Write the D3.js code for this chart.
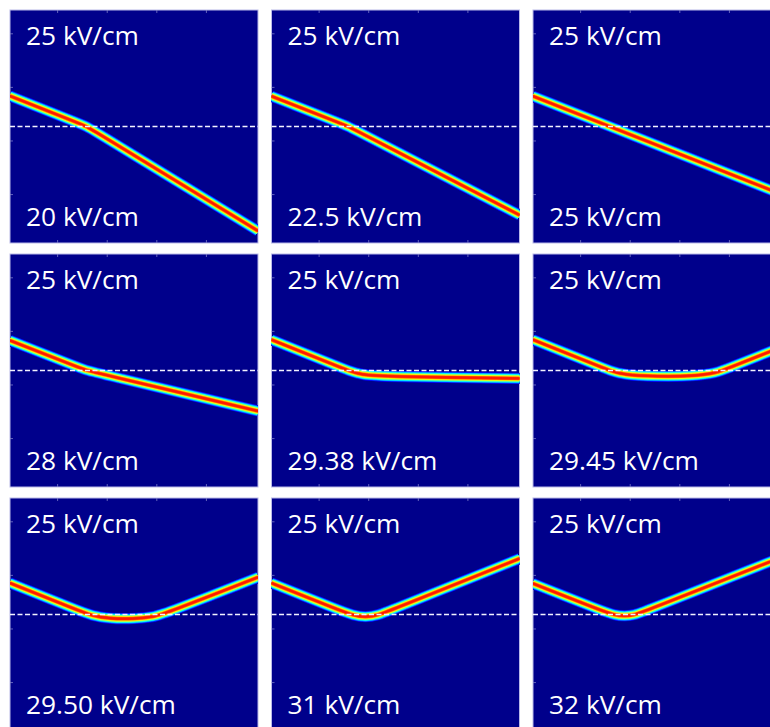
<!DOCTYPE html>
<html>
<head>
<meta charset="utf-8">
<script src="https://cdn.jsdelivr.net/npm/d3@7"></script>
<style>
  html, body { margin: 0; padding: 0; background: #ffffff; }
  svg { display: block; }
</style>
</head>
<body>
<svg id="chart" width="770" height="727"></svg>
<script>
// Upper-layer field (same in every panel) and lower-layer field per panel
const referenceLabel = "25 kV/cm";
const fieldLabels = ["20 kV/cm", "22.5 kV/cm", "25 kV/cm",
                     "28 kV/cm", "29.38 kV/cm", "29.45 kV/cm",
                     "29.50 kV/cm", "31 kV/cm", "32 kV/cm"];

// Beam centre-line per panel: [x, y] with x across the panel (0–100)
// and y relative to the interface (0 = dashed line, positive = above)
const beamPaths = [
  [[0, 13.1], [27, 1.7], [31, 0], [35, -2.6], [100, -44.8]],
  [[0, 13.0], [27, 1.7], [31, 0], [35, -2.2], [100, -38.0]],
  [[0, 13.0], [31, 0], [100, -29.0]],
  [[0, 12.9], [27, 1.6], [31, 0], [35, -1.0], [100, -17.4]],
  [[0, 13.2], [27, 1.7], [31, 0], [36, -1.8], [45, -2.6], [100, -3.4]],
  [[0, 13.2], [27, 1.7], [31, 0], [36, -1.8], [50, -2.6], [65, -2.4], [74, -1.0], [78, 0.7], [100, 10.0]],
  [[0, 13.5], [27, 2.0], [33, -0.5], [40, -1.8], [50, -1.9], [58, -1.0], [63, 0.6], [100, 16.0]],
  [[0, 13.5], [27, 2.0], [33, -0.4], [38, -1.2], [43, -0.3], [48, 1.8], [100, 24.0]],
  [[0, 13.3], [28, 1.5], [33, -0.3], [37, -0.7], [41, -0.2], [45, 1.4], [100, 24.5]]
];

// Frame ticks
const xTicks = [19, 39, 59, 79];
const yTicks = [40, 17, -6, -29];

const svg = d3.select("#chart");
const panelW = 248, panelH = 233;
const colPitch = 261.5;
const rowTops = [10, 254, 498];
const originX = 10;

const x = d3.scaleLinear().domain([0, 100]).range([0, panelW]);
const y = d3.scaleLinear().domain([-50, 50]).range([panelH, 0]);

// jet colour map
function jet(t) {
  const c = v => Math.max(0, Math.min(1, v));
  const r = c(1.5 - Math.abs(4 * t - 3));
  const g = c(1.5 - Math.abs(4 * t - 2));
  const b = c(1.5 - Math.abs(4 * t - 1));
  return d3.rgb(r * 255, g * 255, b * 255).formatHex();
}

// Beam cross-section drawn as nested strokes, brighter towards the centre
const beamWidth = 12;
const levels = d3.range(0.05, 0.87, 0.02);

const line = d3.line()
  .x(d => x(d[0]))
  .y(d => y(d[1]))
  .curve(d3.curveBasis);

const defs = svg.append("defs");
defs.append("clipPath").attr("id", "panel-clip")
  .append("rect").attr("width", panelW).attr("height", panelH);

const panels = svg.selectAll("g.panel")
  .data(beamPaths)
  .join("g")
  .attr("class", "panel")
  .attr("transform", (d, i) =>
    `translate(${originX + (i % 3) * colPitch},${rowTops[Math.floor(i / 3)]})`);

panels.append("rect")
  .attr("width", panelW)
  .attr("height", panelH)
  .attr("fill", "#00008b")
  .attr("stroke", "#b9b9e8")
  .attr("stroke-width", 1);

const inner = panels.append("g").attr("clip-path", "url(#panel-clip)");

inner.each(function (pts) {
  const g = d3.select(this);
  levels.forEach(t => {
    g.append("path")
      .attr("d", line(pts))
      .attr("fill", "none")
      .attr("stroke", jet(t))
      .attr("stroke-width", beamWidth * (1 - t))
      .attr("stroke-linejoin", "round");
  });
});

// interface
inner.append("line")
  .attr("x1", x(0)).attr("x2", x(100))
  .attr("y1", y(0)).attr("y2", y(0))
  .attr("stroke", "#f2f2ff")
  .attr("stroke-width", 1.3)
  .attr("stroke-dasharray", "5,2.5");

// faint frame ticks
const tickStyle = sel => sel.call(g => g.select(".domain").remove())
  .selectAll("line").attr("stroke", "#8c8cd0").attr("stroke-opacity", 0.7);
panels.append("g").attr("transform", `translate(0,${panelH})`)
  .call(d3.axisBottom(x).tickValues(xTicks).tickSize(-3).tickFormat(""))
  .call(tickStyle);
panels.append("g")
  .call(d3.axisTop(x).tickValues(xTicks).tickSize(-3).tickFormat(""))
  .call(tickStyle);
panels.append("g")
  .call(d3.axisLeft(y).tickValues(yTicks).tickSize(-3).tickFormat(""))
  .call(tickStyle);

// labels
const fontSize = 25;
const topText = panels.append("text")
  .attr("class", "lbl")
  .text(referenceLabel);
const botText = panels.append("text")
  .attr("class", "lbl")
  .text((d, i) => fieldLabels[i]);

svg.selectAll("text.lbl")
  .attr("font-family", "'Open Sans', 'Noto Sans', sans-serif")
  .attr("font-size", fontSize)
  .attr("fill", "#ffffff");

// horizontal stretch so the reference label spans its width
const refWidth = topText.node().getComputedTextLength();
const stretch = 113 / refWidth;
topText.attr("transform", `translate(16,35) scale(${stretch},1)`);
botText.attr("transform", `translate(16,216) scale(${stretch},1)`);
</script>
</body>
</html>
